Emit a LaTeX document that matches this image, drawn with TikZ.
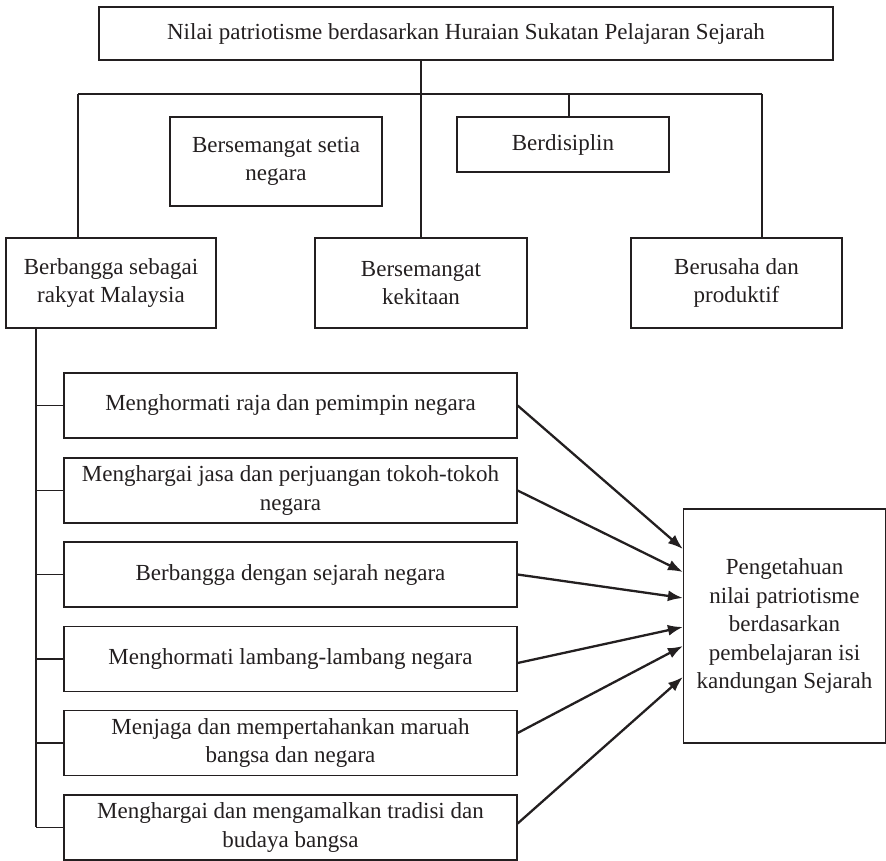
\documentclass[tikz,border=0pt]{standalone}
\usepackage{fontspec}
\setmainfont{Liberation Serif}
\usetikzlibrary{arrows.meta,calc}
\definecolor{ink}{HTML}{231F20}
\begin{document}
\begin{tikzpicture}[x=1pt,y=-1pt,
  box/.style={draw=ink,line width=1.2pt,rectangle,align=center,inner sep=0pt,
    font=\fontsize{23}{28.5}\selectfont,text=ink},
  link/.style={draw=ink,line width=1.2pt},
  arr/.style={draw=ink,line width=2.3pt,-{Latex[length=15pt,width=11pt]}}]
\useasboundingbox (0,0) rectangle (886,861);
\node[box,minimum width=734pt,minimum height=53pt] (top) at (466,33.5) {Nilai patriotisme berdasarkan Huraian Sukatan Pelajaran Sejarah};
\node[box,minimum width=212pt,minimum height=89pt] (setia) at (276,161.5) {Bersemangat setia\\negara};
\node[box,minimum width=212pt,minimum height=55pt] (disiplin) at (563,144.5) {Berdisiplin};
\node[box,minimum width=210pt,minimum height=90pt] (bangga) at (111,283) {Berbangga sebagai\\rakyat Malaysia};
\node[box,minimum width=212pt,minimum height=90pt] (kekitaan) at (421,283) {Bersemangat\\kekitaan};
\node[box,minimum width=211pt,minimum height=90pt] (usaha) at (736.5,283) {Berusaha dan\\produktif};
\node[box,minimum width=453pt,minimum height=65pt] (m1) at (290.5,405.5) {Menghormati raja dan pemimpin negara};
\node[box,minimum width=453pt,minimum height=65pt] (m2) at (290.5,490.5) {Menghargai jasa dan perjuangan tokoh-tokoh\\negara};
\node[box,minimum width=453pt,minimum height=65pt] (m3) at (290.5,574.5) {Berbangga dengan sejarah negara};
\node[box,minimum width=453pt,minimum height=65pt] (m4) at (290.5,659) {Menghormati lambang-lambang negara};
\node[box,minimum width=453pt,minimum height=65pt] (m5) at (290.5,743) {Menjaga dan mempertahankan maruah\\bangsa dan negara};
\node[box,minimum width=453pt,minimum height=65pt] (m6) at (290.5,827.5) {Menghargai dan mengamalkan tradisi dan\\budaya bangsa};
\node[box,minimum width=202pt,minimum height=234pt] (tg) at (784.5,626) {Pengetahuan\\nilai patriotisme\\berdasarkan\\pembelajaran isi\\kandungan Sejarah};
% hierarchy connectors
\coordinate (hl) at (78,94);
\coordinate (hr) at (762,94);
\coordinate (hd) at (569,94);
\coordinate (spineEnd) at (36,827);
\draw[link] (kekitaan.north) -- (kekitaan.north |- top.south);
\draw[link] (hl) -- (hr);
\draw[link] (hl) -- (hl |- bangga.north);
\draw[link] (hr) -- (hr |- usaha.north);
\draw[link] (hd) -- (hd |- disiplin.north);
\draw[link] (spineEnd |- bangga.south) -- (spineEnd);
\foreach \m in {m1,m2,m3,m4,m5,m6}{
  \draw[link] (\m.west) -- (spineEnd |- \m.west);
}
% arrows
\draw[arr] (m1.east) -- ($(tg.west)+(0,-77)$);
\draw[arr] (m2.east) -- ($(tg.west)+(0,-54)$);
\draw[arr] (m3.east) -- ($(tg.west)+(0,-28)$);
\draw[arr] ($(m4.east)+(0,4)$) -- ($(tg.west)+(0,1)$);
\draw[arr] ($(m5.east)+(0,-10)$) -- ($(tg.west)+(0,20)$);
\draw[arr] ($(m6.east)+(0,-4)$) -- ($(tg.west)+(0,51)$);
\end{tikzpicture}
\end{document}
